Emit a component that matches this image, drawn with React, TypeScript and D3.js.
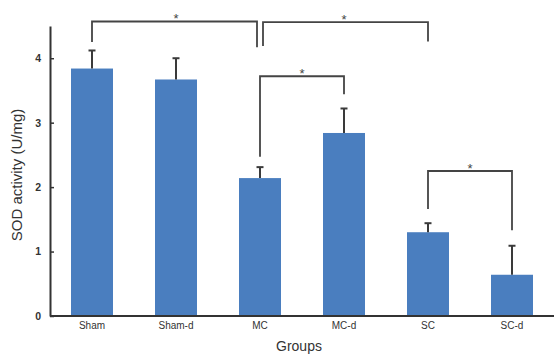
import React, { useEffect, useRef } from "react";
import * as d3 from "d3";

const groups = ["Sham", "Sham-d", "MC", "MC-d", "SC", "SC-d"];
const means = [3.84, 3.67, 2.14, 2.84, 1.3, 0.64];
const errors = [0.28, 0.33, 0.17, 0.38, 0.14, 0.45];
const yTicks = [0, 1, 2, 3, 4];

// significance brackets: from group, to group, bar level, left/right drop ends (U/mg)
const brackets = [
  { from: "Sham", to: "MC", top: 4.57, leftEnd: 4.25, rightEnd: 4.17, label: "*" },
  { from: "MC", to: "SC", top: 4.56, leftEnd: 4.19, rightEnd: 4.26, label: "*" },
  { from: "MC", to: "MC-d", top: 3.72, leftEnd: 2.47, rightEnd: 3.44, label: "*" },
  { from: "SC", to: "SC-d", top: 2.25, leftEnd: 1.66, rightEnd: 1.33, label: "*" },
];

const Chart = () => {
  const ref = useRef<SVGSVGElement>(null);

  useEffect(() => {
    const width = 554;
    const height = 354;
    const margin = { top: 26, right: 0, bottom: 38, left: 50 };

    const svg = d3.select(ref.current);
    svg.selectAll("*").remove();

    const x = d3
      .scaleBand()
      .domain(groups)
      .range([margin.left, width - margin.right])
      .paddingInner(0.5)
      .paddingOuter(0.25);

    const y = d3
      .scaleLinear()
      .domain([0, 4.5])
      .range([height - margin.bottom, margin.top]);

    const font = "Arial, 'Liberation Sans', sans-serif";
    const ink = "#333";

    // bars
    svg
      .append("g")
      .attr("fill", "#4a7ebf")
      .selectAll("rect")
      .data(means)
      .join("rect")
      .attr("x", (d, i) => x(groups[i])!)
      .attr("y", (d) => y(d))
      .attr("width", x.bandwidth())
      .attr("height", (d) => y(0) - y(d));

    // error bars
    const eb = svg
      .append("g")
      .attr("stroke", "#3a3a3a")
      .attr("stroke-width", 2)
      .selectAll("g")
      .data(means)
      .join("g");
    eb.append("line")
      .attr("x1", (d, i) => x(groups[i])! + x.bandwidth() / 2)
      .attr("x2", (d, i) => x(groups[i])! + x.bandwidth() / 2)
      .attr("y1", (d) => y(d))
      .attr("y2", (d, i) => y(d + errors[i]));
    eb.append("line")
      .attr("x1", (d, i) => x(groups[i])! + x.bandwidth() / 2 - 3.5)
      .attr("x2", (d, i) => x(groups[i])! + x.bandwidth() / 2 + 3.5)
      .attr("y1", (d, i) => y(d + errors[i]))
      .attr("y2", (d, i) => y(d + errors[i]));

    // axes
    const yAxis = svg
      .append("g")
      .attr("transform", `translate(${margin.left},0)`)
      .call(
        d3
          .axisLeft(y)
          .tickValues(yTicks)
          .tickFormat(d3.format("d"))
          .tickSize(-4)
          .tickSizeOuter(0)
          .tickPadding(9)
      );
    yAxis.select(".domain").attr("stroke", ink).attr("stroke-width", 2);
    yAxis.selectAll(".tick line").attr("stroke", ink).attr("stroke-width", 1.5);
    yAxis
      .selectAll("text")
      .attr("font-family", font)
      .attr("font-size", 10.5)
      .attr("font-weight", "bold")
      .attr("fill", ink);

    const xAxis = svg
      .append("g")
      .attr("transform", `translate(0,${y(0)})`)
      .call(d3.axisBottom(x).tickSize(0).tickPadding(6));
    xAxis
      .select(".domain")
      .attr("stroke", ink)
      .attr("stroke-width", 2)
      .attr("d", `M${margin.left},0H${width}`);
    xAxis
      .selectAll("text")
      .attr("font-family", font)
      .attr("font-size", 10)
      .attr("fill", ink);

    // axis titles
    svg
      .append("text")
      .attr("x", 299)
      .attr("y", height - 3)
      .attr("text-anchor", "middle")
      .attr("font-family", font)
      .attr("font-size", 14)
      .attr("fill", ink)
      .text("Groups");

    svg
      .append("text")
      .attr("transform", `translate(22,175) rotate(-90)`)
      .attr("text-anchor", "middle")
      .attr("font-family", font)
      .attr("font-size", 15)
      .attr("fill", ink)
      .text("SOD activity (U/mg)");

    // significance brackets
    const cx = (g: string) => x(g)! + x.bandwidth() / 2;
    const bg = svg
      .append("g")
      .selectAll("g")
      .data(brackets)
      .join("g");
    bg.append("path")
      .attr("fill", "none")
      .attr("stroke", "#444")
      .attr("stroke-width", 1.8)
      .attr("d", (b, i) => {
        // nudge the shared MC ends of the two top brackets apart
        const x1 = cx(b.from) + (i === 1 ? 3 : 0);
        const x2 = cx(b.to) - (i === 0 ? 3 : 0);
        return `M${x1},${y(b.leftEnd)}V${y(b.top)}H${x2}V${y(b.rightEnd)}`;
      });
    bg.append("text")
      .attr("x", (b) => (cx(b.from) + cx(b.to)) / 2)
      .attr("y", (b) => y(b.top) + 2)
      .attr("text-anchor", "middle")
      .attr("font-family", font)
      .attr("font-size", 13)
      .attr("fill", "#444")
      .text((b) => b.label);
  }, []);

  return (
    <svg
      ref={ref}
      width={554}
      height={354}
      style={{ display: "block", position: "absolute", left: 0, top: 0 }}
    ></svg>
  );
};

export default function App() {
  return <Chart />;
}
